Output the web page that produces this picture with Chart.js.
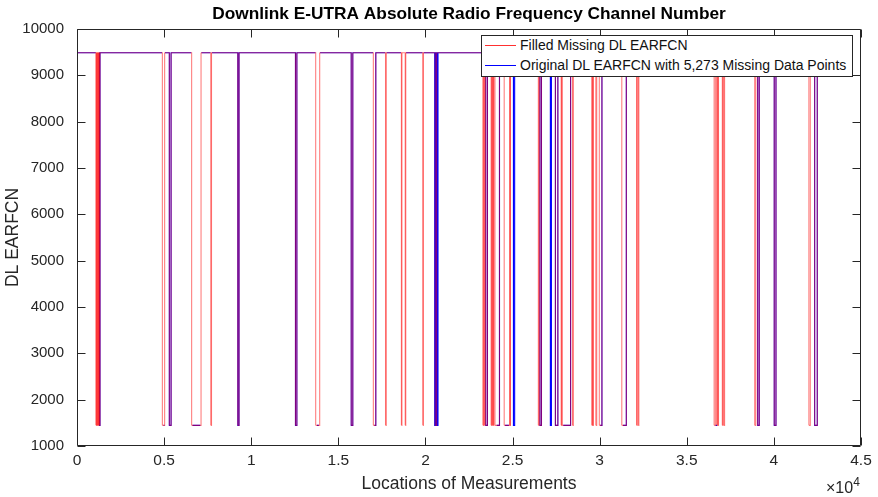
<!DOCTYPE html>
<html>
<head>
<meta charset="utf-8">
<script src="https://cdn.jsdelivr.net/npm/chart.js@4.4.1/dist/chart.umd.min.js"></script>
<style>
  body { margin: 0; background: #fff; }
  #wrap { position: relative; width: 878px; height: 497px; }
  #legend { position: absolute; left: 481px; top: 35px; width: 372px; height: 42px; box-sizing: border-box;
            border: 1px solid #262626; background: #fff; font: 14px 'Liberation Sans', Arial, sans-serif; color: #111; }
  .row { position: absolute; left: 3px; height: 18px; white-space: nowrap; line-height: 18px; padding-left: 35px; }
  .swatch { position: absolute; left: 0; top: 9px; width: 31px; height: 1px; }
  #exp { position: absolute; left: 826px; top: 476px; font: 16px 'Liberation Sans', Arial, sans-serif; color: #262626; }
  #exp sup { font-size: 12px; position: relative; top: -1px; }
</style>
</head>
<body>
<div id="wrap">
  <canvas id="chart"></canvas>
  <div id="legend">
    <div class="row" style="top:0px"><span class="swatch" style="background:#ff3030"></span>Filled Missing DL EARFCN</div>
    <div class="row" style="top:20px"><span class="swatch" style="background:#0000ff"></span>Original DL EARFCN with 5,273 Missing Data Points</div>
  </div>
  <div id="exp">×10<sup>4</sup></div>
</div>
<script>
// niveles de EARFCN
const HIGH = 9485;
const LOW = 1446;
const LAST = 42520;   // última medición

// serie rellenada (roja): intervalos en LOW
const filledDropStart = [1090, 1140, 1190, 1240, 1290, 4900, 5300, 6580, 7680, 9230, 12540, 13700, 15740, 17010,
  17710, 18620, 18840, 19850, 20560, 23300, 23380, 23460, 23770, 23840, 23900, 23990, 24520, 24850, 26480, 26570,
  27460, 27790, 27850, 28440, 29550, 29610, 29780, 29980, 31270, 32120, 32210, 36570, 36720, 36790, 37040, 37120,
  38900, 39070, 40020, 42010, 42340];
const filledDropEnd = [1110, 1160, 1210, 1260, 1320, 5030, 5400, 7120, 7720, 9300, 12620, 13930, 15830, 17150,
  17750, 18650, 18870, 19880, 20640, 23330, 23410, 23560, 23800, 23870, 23930, 24250, 24840, 24880, 26520, 26660,
  27600, 27820, 28330, 28490, 29580, 29640, 29830, 30130, 31530, 32150, 32250, 36640, 36750, 36820, 37070, 37170,
  38960, 39160, 40120, 42090, 42490];

// serie original (azul): intervalos en LOW
const originalDropStart = [1290, 4960, 5300, 6620, 9230, 12540, 13760, 15740, 17060, 20530, 20580, 20630, 20680,
  23460, 24080, 24560, 25050, 26570, 27170, 27460, 27900, 30020, 31330, 36640, 39070, 40020, 42340];
const originalDropEnd = [1320, 5030, 5400, 7090, 9300, 12620, 13890, 15830, 17150, 20550, 20600, 20650, 20720,
  23560, 24250, 24800, 25120, 26660, 27230, 27600, 28330, 30130, 31530, 36760, 39160, 40120, 42490];

// datos faltantes (NaN) de la serie original
const originalGapStart = [1080, 4880, 5020, 6560, 7080, 7660, 13690, 13880, 16990, 17690, 18600, 19830, 23280,
  23750, 24500, 24790, 26460, 27770, 28420, 29530, 29960, 31250, 32100, 36550, 36750, 38880, 41990];
const originalGapEnd = [1280, 4970, 5050, 6630, 7140, 7740, 13770, 13950, 17070, 17770, 18890, 19900, 23430,
  24090, 24570, 24900, 26540, 27910, 28510, 29850, 30030, 31340, 32270, 36650, 37190, 38980, 42110];

const xTicks = [0, 5000, 10000, 15000, 20000, 25000, 30000, 35000, 40000, 45000];
const yTicks = [1000, 2000, 3000, 4000, 5000, 6000, 7000, 8000, 9000, 10000];

// Construye los puntos escalonados a partir de los intervalos
function construirSerie(dropStart, dropEnd, gapStart, gapEnd) {
  function valor(x) {
    for (let i = 0; i < gapStart.length; i++) {
      if (x >= gapStart[i] && x < gapEnd[i]) return null;
    }
    for (let i = 0; i < dropStart.length; i++) {
      if (x >= dropStart[i] && x < dropEnd[i]) return LOW;
    }
    return HIGH;
  }
  const xs = [...new Set([0, LAST, ...dropStart, ...dropEnd, ...gapStart, ...gapEnd])].sort((a, b) => a - b);
  const pts = [];
  xs.forEach(x => {
    const ahora = valor(x);
    const antes = x > 0 ? valor(x - 1) : ahora;
    if (ahora === null && antes !== null) pts.push({ x: x, y: antes });
    pts.push({ x: x, y: ahora });
  });
  return pts;
}

const filledData = construirSerie(filledDropStart, filledDropEnd, [], []);
const originalData = construirSerie(originalDropStart, originalDropEnd, originalGapStart, originalGapEnd);

const fuente = "'Liberation Sans', Arial, Helvetica, sans-serif";
Chart.defaults.font.family = fuente;

// ejes tipo MATLAB: caja y marcas hacia dentro
const cajaEjes = {
  id: 'cajaEjes',
  afterDraw(chart) {
    const { ctx, chartArea: a, scales: { x, y } } = chart;
    const l = Math.round(a.left) + 0.5, r = Math.round(a.right) - 0.5;
    const t = Math.round(a.top) + 0.5, b = Math.round(a.bottom) - 0.5;
    ctx.save();
    ctx.strokeStyle = '#262626';
    ctx.lineWidth = 1;
    ctx.beginPath();
    ctx.rect(l, t, r - l, b - t);
    xTicks.forEach(v => {
      const px = Math.round(x.getPixelForValue(v)) + 0.5;
      ctx.moveTo(px, b); ctx.lineTo(px, b - 8);
      ctx.moveTo(px, t); ctx.lineTo(px, t + 8);
    });
    yTicks.forEach(v => {
      const py = Math.round(y.getPixelForValue(v)) + 0.5;
      ctx.moveTo(l, py); ctx.lineTo(l + 8, py);
      ctx.moveTo(r, py); ctx.lineTo(r - 8, py);
    });
    ctx.stroke();
    ctx.restore();
  }
};

new Chart(document.getElementById('chart'), {
  type: 'line',
  data: {
    datasets: [{
      label: 'Filled Missing DL EARFCN',
      data: filledData,
      borderColor: 'rgba(255,0,0,0.5)',
      borderWidth: 1.1,
      stepped: true,
      pointRadius: 0,
      // cada tramo se dibuja aparte para que las transparencias se sumen
      segment: { borderColor: c => c.p0DataIndex % 2 ? 'rgba(255,0,0,0.5)' : 'rgba(254,0,0,0.5)' }
    }, {
      label: 'Original DL EARFCN with 5,273 Missing Data Points',
      data: originalData,
      borderColor: '#0000ff',
      borderWidth: 1.1,
      stepped: true,
      pointRadius: 0,
      spanGaps: false
    }]
  },
  options: {
    responsive: true,
    maintainAspectRatio: false,
    animation: false,
    layout: { padding: { left: 0, right: 17, top: 0, bottom: 0 } },
    plugins: {
      legend: { display: false },
      tooltip: { enabled: false },
      title: {
        display: true,
        fullSize: false,
        text: 'Downlink E-UTRA Absolute Radio Frequency Channel Number',
        color: '#000',
        font: { size: 17.3, weight: 'bold' },
        padding: { top: 4, bottom: 4.2 }
      }
    },
    scales: {
      x: {
        type: 'linear',
        min: 0, max: 45000,
        afterFit: s => { s.height = 51; },
        afterBuildTicks: s => { s.ticks = xTicks.map(v => ({ value: v })); },
        grid: { display: false },
        border: { display: false },
        ticks: { color: '#262626', font: { size: 15.5 }, padding: -3, maxRotation: 0,
                 callback: v => String(v / 10000) },
        title: { display: true, text: 'Locations of Measurements', color: '#262626',
                 font: { size: 17.5 }, padding: { top: 0, bottom: 2 } }
      },
      y: {
        min: 1000, max: 10000,
        afterFit: s => { s.width = 77; },
        afterBuildTicks: s => { s.ticks = yTicks.map(v => ({ value: v })); },
        grid: { display: false },
        border: { display: false },
        ticks: { color: '#262626', font: { size: 15 }, padding: 5, callback: v => String(v) },
        title: { display: true, text: 'DL EARFCN', color: '#262626',
                 font: { size: 17.5 }, padding: { top: 3, bottom: 0 } }
      }
    }
  },
  plugins: [cajaEjes]
});
</script>
</body>
</html>
